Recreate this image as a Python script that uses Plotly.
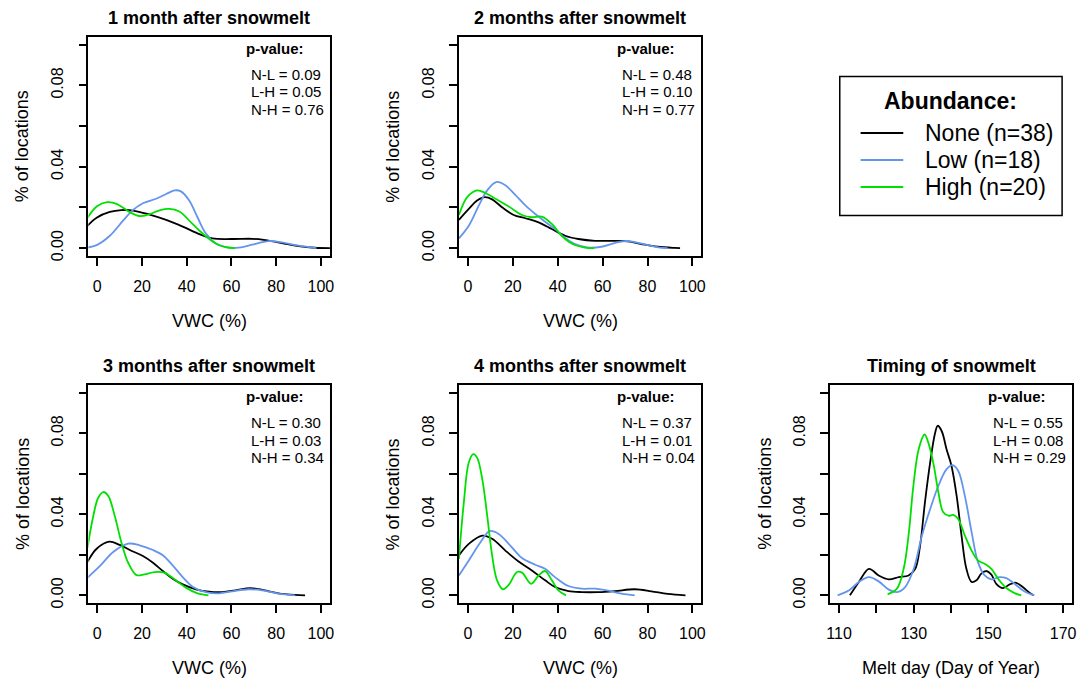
import plotly.graph_objects as go

W, H = 1080, 682
FONT = "Liberation Sans, Arial, sans-serif"

# ---------------- data ----------------
groups = ["None (n=38)", "Low (n=18)", "High (n=20)"]
colors = ["#000000", "#6495ED", "#00E000"]

titles = ["1 month after snowmelt", "2 months after snowmelt",
          "3 months after snowmelt", "4 months after snowmelt",
          "Timing of snowmelt"]
xlabels = ["VWC (%)", "VWC (%)", "VWC (%)", "VWC (%)", "Melt day (Day of Year)"]
pvalues = [["N-L = 0.09", "L-H = 0.05", "N-H = 0.76"],
           ["N-L = 0.48", "L-H = 0.10", "N-H = 0.77"],
           ["N-L = 0.30", "L-H = 0.03", "N-H = 0.34"],
           ["N-L = 0.37", "L-H = 0.01", "N-H = 0.04"],
           ["N-L = 0.55", "L-H = 0.08", "N-H = 0.29"]]

vwc_ticks = [0, 20, 40, 60, 80, 100]
vwc_ticklabels = ["0", "20", "40", "60", "80", "100"]
day_ticks = [110, 120, 130, 140, 150, 160, 170]
day_ticklabels = ["110", "", "130", "", "150", "", "170"]
y_ticks = [0, 0.02, 0.04, 0.06, 0.08, 0.10]
y_ticklabels = ["0.00", "", "0.04", "", "0.08", ""]

# Panel 1: 1 month after snowmelt
p1_none_x = [-4.4, -0.3, 5.6, 10.8, 16, 23.4, 30.8, 38.2, 45.6, 51.5, 60.4, 69.2, 74.4, 82.5, 90, 97.3, 104.5]
p1_none_y = [0.011, 0.0150, 0.0178, 0.0187, 0.0185, 0.0165, 0.0139, 0.0106, 0.0069, 0.0048, 0.0045, 0.0046, 0.0041, 0.0025, 0.0010, 0.0002, 0.0]
p1_low_x = [-4.4, -0.3, 5.6, 11.5, 16, 20.4, 26.3, 30.8, 34.5, 37.4, 41.1, 44.8, 48.5, 53, 57.4, 63.3, 69.2, 76.6, 82.5, 90, 98]
p1_low_y = [0.0003, 0.0015, 0.0061, 0.0135, 0.0188, 0.0221, 0.0243, 0.0266, 0.0284, 0.0279, 0.0234, 0.0152, 0.0073, 0.0023, 0.0005, 0.0003, 0.0017, 0.0035, 0.0028, 0.0012, 0.0]
p1_high_x = [-4.4, -0.3, 4.4, 8.6, 14.5, 18.9, 23.4, 27.8, 32.2, 36.7, 42.6, 47, 53, 57.4, 61.5]
p1_high_y = [0.0149, 0.0205, 0.0226, 0.0218, 0.0177, 0.0158, 0.0167, 0.0186, 0.0193, 0.0180, 0.0119, 0.0073, 0.0023, 0.0005, 0.0]

# Panel 2: 2 months after snowmelt
p2_none_x = [-4, 0.4, 4.1, 7.5, 10.8, 15.2, 20.4, 25.6, 31.5, 37.4, 43.3, 49.2, 56.6, 65.4, 71.3, 77.3, 84.6, 92, 94.5]
p2_none_y = [0.0139, 0.0193, 0.0234, 0.0251, 0.0240, 0.0201, 0.0163, 0.0147, 0.0127, 0.0094, 0.0061, 0.0045, 0.0036, 0.0036, 0.0033, 0.0020, 0.0007, 0.0001, 0.0]
p2_low_x = [-4, 0.4, 4.9, 8.6, 12.6, 16.7, 21.1, 25.6, 30, 34.4, 38.8, 43.3, 47.7, 53.6, 59.5, 65.4, 69.9, 74.3, 80.2, 85.4, 89]
p2_low_y = [0.0048, 0.0110, 0.0210, 0.0284, 0.0325, 0.0309, 0.0262, 0.0210, 0.0168, 0.0130, 0.0094, 0.0050, 0.0020, 0.0003, 0.0007, 0.0025, 0.0035, 0.0030, 0.0015, 0.0003, 0.0]
p2_high_x = [-4, -0.3, 4.1, 7.8, 12.3, 18.2, 24.1, 28.5, 32.9, 37.4, 41.8, 46.2, 52.1, 56.3]
p2_high_y = [0.0163, 0.0251, 0.0284, 0.0271, 0.0243, 0.0205, 0.0163, 0.0152, 0.0155, 0.0119, 0.0061, 0.0023, 0.0003, 0.0]

# Panel 3: 3 months after snowmelt
p3_none_x = [-4.4, -0.3, 5.3, 10, 14.5, 20.4, 24.9, 29.3, 33.7, 38.2, 44.1, 50, 55.9, 61.8, 68.5, 74.4, 81, 88.5, 92.9]
p3_none_y = [0.0165, 0.0230, 0.0265, 0.0249, 0.0224, 0.0194, 0.0161, 0.0120, 0.0082, 0.0054, 0.0030, 0.0018, 0.0016, 0.0025, 0.0036, 0.0026, 0.0010, 0.0002, 0.0]
p3_low_x = [-4.4, 1.2, 7.1, 13.8, 18.9, 24.9, 29.3, 33.7, 38.2, 42.6, 48.5, 54.4, 60.4, 67.8, 73.7, 81, 88.5]
p3_low_y = [0.0087, 0.0145, 0.0214, 0.0255, 0.0247, 0.0224, 0.0198, 0.0148, 0.0090, 0.0043, 0.0016, 0.0010, 0.0020, 0.0030, 0.0025, 0.0008, 0.0]
p3_high_x = [-4.4, -1.8, 0.4, 2.7, 4.9, 7.8, 10.8, 13.8, 17.5, 21.1, 25.6, 30, 34.5, 39.6, 44.8, 49.7]
p3_high_y = [0.0235, 0.0392, 0.0482, 0.0510, 0.0490, 0.0392, 0.0260, 0.0161, 0.0100, 0.0104, 0.0115, 0.0112, 0.0079, 0.0038, 0.0010, 0.0]

# Panel 4: 4 months after snowmelt
p4_none_x = [-4, 0.4, 6.4, 10.8, 16.7, 22.6, 28.5, 34.4, 38.8, 44.8, 50.7, 58, 65.4, 74.3, 81.7, 89, 96.9]
p4_none_y = [0.0197, 0.0254, 0.0295, 0.0279, 0.0221, 0.0167, 0.0123, 0.0074, 0.0041, 0.0021, 0.0016, 0.0016, 0.0021, 0.0030, 0.0020, 0.0007, 0.0]
p4_low_x = [-4, 0.4, 5.6, 9.7, 13.7, 18.9, 24.1, 30, 34.4, 38.8, 44.8, 50.7, 56.6, 62.5, 68.4, 74.3]
p4_low_y = [0.0098, 0.0172, 0.0262, 0.0317, 0.0303, 0.0246, 0.0184, 0.0151, 0.0131, 0.0090, 0.0046, 0.0033, 0.0033, 0.0023, 0.0008, 0.0]
p4_high_x = [-4, -1.8, 0.4, 2.4, 4.1, 6.4, 8.6, 10.8, 13, 15.6, 18.2, 21.9, 24.1, 28.2, 31.5, 34.4, 37.4, 40.3, 43.7]
p4_high_y = [0.0180, 0.0459, 0.0656, 0.0697, 0.0680, 0.0574, 0.0394, 0.0197, 0.0074, 0.0030, 0.0052, 0.0115, 0.0112, 0.0057, 0.0098, 0.0120, 0.0074, 0.0025, 0.0]

# Panel 5: Timing of snowmelt
p5_none_x = [112.9, 115.3, 118, 120.6, 123.3, 126, 128.6, 130.4, 131.7, 133, 134.4, 135.7, 136.4, 137.5, 138.8, 140.1, 141.5, 142.8, 144.1, 145.5, 146.8, 148.1, 149.5, 150.8, 152.1, 153.9, 155.7, 157.4, 159.2, 161, 162.1]
p5_none_y = [0.0, 0.0066, 0.0131, 0.0098, 0.0079, 0.0090, 0.0098, 0.0131, 0.0246, 0.0459, 0.0656, 0.0800, 0.0837, 0.0810, 0.0720, 0.0640, 0.0490, 0.0295, 0.0131, 0.0066, 0.0074, 0.0107, 0.0120, 0.0102, 0.0057, 0.0036, 0.0054, 0.0062, 0.0041, 0.0013, 0.0]
p5_low_x = [109.6, 112.7, 115.3, 118, 120.6, 123.3, 125.5, 127.7, 130, 132.2, 134.4, 136.6, 138.8, 140.4, 141.9, 143.7, 145.5, 147.2, 149, 150.8, 153, 154.8, 157, 159.6, 162.3]
p5_low_y = [0.0, 0.0025, 0.0066, 0.0090, 0.0069, 0.0028, 0.0016, 0.0041, 0.0131, 0.0295, 0.0426, 0.0541, 0.0623, 0.0643, 0.0615, 0.0490, 0.0312, 0.0164, 0.0098, 0.0079, 0.0090, 0.0085, 0.0057, 0.0020, 0.0]
p5_high_x = [123, 125.5, 127.3, 128.6, 129.9, 131.3, 132.9, 133.9, 135.3, 136.6, 137.9, 139.3, 140.6, 141.9, 143.7, 145.5, 147.2, 149, 150.8, 152.6, 154.8, 157, 158.8]
p5_high_y = [0.0005, 0.0033, 0.0131, 0.0295, 0.0540, 0.0720, 0.0794, 0.0754, 0.0648, 0.0508, 0.0410, 0.0393, 0.0397, 0.0377, 0.0295, 0.0221, 0.0172, 0.0156, 0.0131, 0.0082, 0.0036, 0.0011, 0.0]

panel_series = [
    [(p1_none_x, p1_none_y), (p1_low_x, p1_low_y), (p1_high_x, p1_high_y)],
    [(p2_none_x, p2_none_y), (p2_low_x, p2_low_y), (p2_high_x, p2_high_y)],
    [(p3_none_x, p3_none_y), (p3_low_x, p3_low_y), (p3_high_x, p3_high_y)],
    [(p4_none_x, p4_none_y), (p4_low_x, p4_low_y), (p4_high_x, p4_high_y)],
    [(p5_none_x, p5_none_y), (p5_low_x, p5_low_y), (p5_high_x, p5_high_y)],
]

# ---------------- layout geometry (pixels) ----------------
col_px = [(85.0, 328.3), (458.3, 702.6), (832.3, 1076.0)]
row_px = [(36.8, 258.2), (387.5, 607.9)]
panel_pos = [(0, 0), (0, 1), (1, 0), (1, 1), (1, 2)]  # (row, col)
x_ranges = [[-4, 104]] * 4 + [[107.6, 172.4]]
y_range = [-0.004, 0.104]


def px(x):
    return x / W


def py(y):
    return 1 - y / H


fig = go.Figure()
layout = dict(
    width=W, height=H,
    margin=dict(l=0, r=0, t=0, b=0),
    paper_bgcolor="white", plot_bgcolor="white",
    showlegend=False,
    font=dict(family=FONT, color="black"),
)
annotations = []
shapes = []

for i, (r, c) in enumerate(panel_pos):
    k = "" if i == 0 else str(i + 1)
    x0, x1 = col_px[c]
    y0, y1 = row_px[r]
    is_day = (i == 4)
    layout["xaxis" + k] = dict(
        domain=[px(x0), px(x1)], anchor="y" + k, range=x_ranges[i],
        showgrid=False, zeroline=False, showline=True, mirror=True,
        linecolor="black", linewidth=1.5,
        ticks="outside", ticklen=8, tickwidth=1.5, tickcolor="black",
        tickvals=day_ticks if is_day else vwc_ticks,
        ticktext=day_ticklabels if is_day else vwc_ticklabels,
        tickfont=dict(size=16, family=FONT, color="black"),
        ticklabelstandoff=7,
    )
    layout["yaxis" + k] = dict(
        domain=[py(y1), py(y0)], anchor="x" + k, range=y_range,
        showgrid=False, zeroline=False, showline=True, mirror=True,
        linecolor="black", linewidth=1.5,
        ticks="outside", ticklen=8, tickwidth=1.5, tickcolor="black",
        tickvals=y_ticks, ticktext=y_ticklabels, tickangle=-90,
        tickfont=dict(size=16, family=FONT, color="black"),
        ticklabelstandoff=9,
    )
    for g, (sx, sy) in enumerate(panel_series[i]):
        fig.add_trace(go.Scatter(
            x=sx, y=sy, mode="lines", name=groups[g],
            line=dict(color=colors[g], width=1.8, shape="spline", smoothing=1.0),
            xaxis="x" + k, yaxis="y" + k, hoverinfo="skip",
        ))
    cx = (x0 + x1) / 2
    cy = (y0 + y1) / 2
    # panel title
    annotations.append(dict(text="<b>%s</b>" % titles[i], x=px(cx), y=py(y0 - 18.5),
                            xref="paper", yref="paper", showarrow=False,
                            xanchor="center", yanchor="middle",
                            font=dict(size=18, family=FONT, color="black")))
    # x-axis title
    annotations.append(dict(text=xlabels[i], x=px(cx), y=py(y1 + 65.5),
                            xref="paper", yref="paper", showarrow=False,
                            xanchor="center", yanchor="middle",
                            font=dict(size=18, family=FONT, color="black")))
    # y-axis title
    annotations.append(dict(text="% of locations", x=px(x0 - 66), y=py(cy),
                            xref="paper", yref="paper", showarrow=False, textangle=-90,
                            xanchor="center", yanchor="middle",
                            font=dict(size=18, family=FONT, color="black")))
    # p-value block
    annotations.append(dict(text="<b>p-value:</b>", x=px(x1 - 55.5), y=py(y0 + 11.7),
                            xref="paper", yref="paper", showarrow=False,
                            xanchor="center", yanchor="middle",
                            font=dict(size=15, family=FONT, color="black")))
    for j, t in enumerate(pvalues[i]):
        annotations.append(dict(text=t, x=px(x1 - 81.5), y=py(y0 + 38.5 + 17.3 * j),
                                xref="paper", yref="paper", showarrow=False,
                                xanchor="left", yanchor="middle",
                                font=dict(size=15, family=FONT, color="black")))

# ---------------- legend (drawn in the empty top-right slot) ----------------
lx0, lx1, ly0, ly1 = 842, 1066, 77, 217
shapes.append(dict(type="rect", xref="paper", yref="paper",
                   x0=px(lx0), x1=px(lx1), y0=py(ly1), y1=py(ly0),
                   line=dict(color="black", width=1.5), fillcolor="white"))
annotations.append(dict(text="<b>Abundance:</b>", x=px(954), y=py(101.5),
                        xref="paper", yref="paper", showarrow=False,
                        xanchor="center", yanchor="middle",
                        font=dict(size=23, family=FONT, color="black")))
for g, name in enumerate(groups):
    yy = 134 + 27.2 * g
    shapes.append(dict(type="line", xref="paper", yref="paper",
                       x0=px(863), x1=px(906), y0=py(yy), y1=py(yy),
                       line=dict(color=colors[g], width=1.8)))
    annotations.append(dict(text=name, x=px(926), y=py(yy),
                            xref="paper", yref="paper", showarrow=False,
                            xanchor="left", yanchor="middle",
                            font=dict(size=23, family=FONT, color="black")))

layout["annotations"] = annotations
layout["shapes"] = shapes
fig.update_layout(**layout)
fig.write_html("out.html")
